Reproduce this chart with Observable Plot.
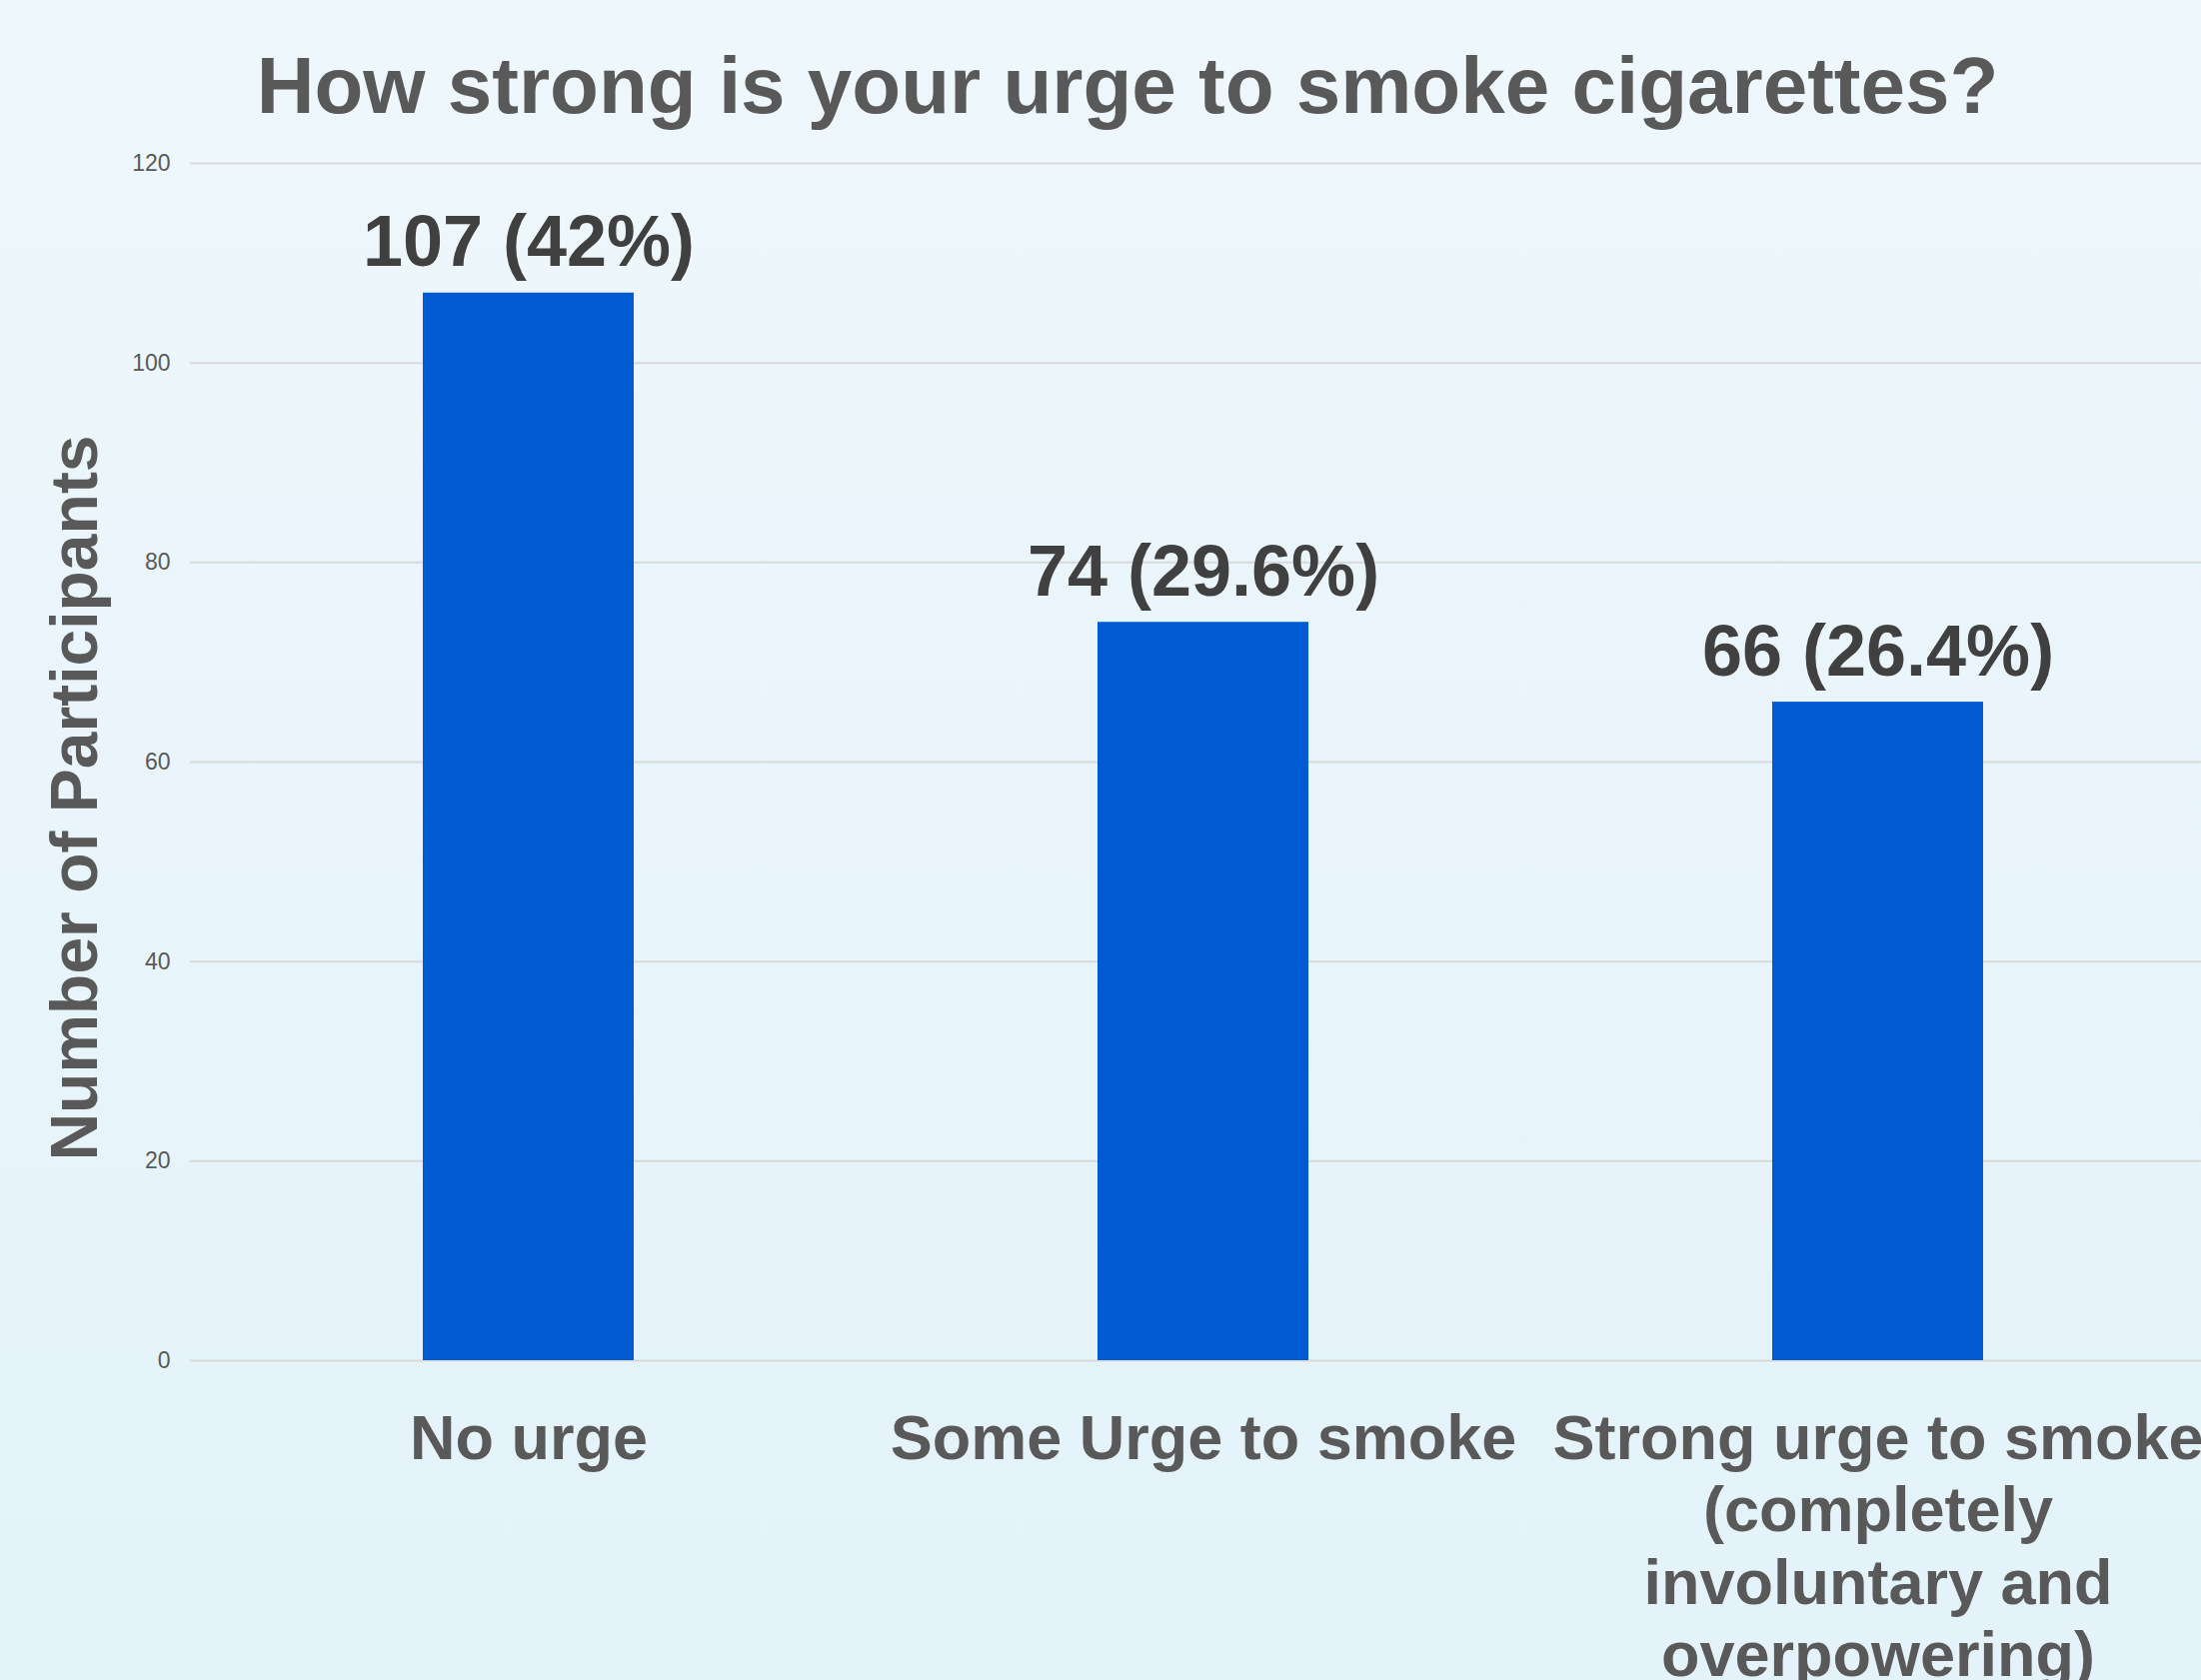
<!DOCTYPE html>
<html><head><meta charset="utf-8">
<script src="https://cdn.jsdelivr.net/npm/d3@7"></script>
<script src="https://cdn.jsdelivr.net/npm/@observablehq/plot@0.6"></script>
<style>
html,body{margin:0;padding:0;width:2202px;height:1681px;overflow:hidden;}
body{background:linear-gradient(#eef7fc,#e3f3f9);font-family:"Liberation Sans",Arial,sans-serif;}
#title{height:140px;box-sizing:border-box;padding-top:40px;padding-left:54px;line-height:92px;font-size:80px;font-weight:bold;color:#595959;text-align:center;white-space:nowrap;}
#chart svg{overflow:visible;}
</style></head><body>
<div id="title">How strong is your urge to smoke cigarettes?</div>
<div id="chart"></div>
<script>
const categories = ["No urge", "Some Urge to smoke", "Strong urge to smoke (completely involuntary and overpowering)"];
const tickLabels = ["No urge", "Some Urge to smoke", "Strong urge to smoke\n(completely\ninvoluntary and\noverpowering)"];
const counts = [107, 74, 66];
const percents = ["42%", "29.6%", "26.4%"];
const yTicks = [0, 20, 40, 60, 80, 100, 120];
const yTitle = "Number of Participants";

const data = categories.map((c, i) => ({category: c, count: counts[i], label: `${counts[i]} (${percents[i]})`}));

const chart = Plot.plot({
  width: 2202, height: 1541,
  marginTop: 23, marginBottom: 320, marginLeft: 190, marginRight: 0,
  style: {background: "transparent", fontFamily: "Liberation Sans, Arial, sans-serif", overflow: "visible"},
  x: {domain: categories, range: [190.5, 2215.5], paddingInner: 0.6875, paddingOuter: 0.34375, align: 0.5},
  y: {domain: [0, 120]},
  marks: [
    Plot.gridY(yTicks, {stroke: "#d9d9d9", strokeOpacity: 1, strokeWidth: 2}),
    Plot.barY(data, {x: "category", y: "count", fill: "#005bd3"}),
    Plot.text(data, {x: "category", y: "count", text: "label", lineAnchor: "bottom", dy: -27, fontSize: 72, fontWeight: "bold", fill: "#404040"}),
    Plot.axisY({ticks: yTicks, tickSize: 0, tickPadding: 20, fontSize: 23, fill: "#595959", label: null}),
    Plot.axisX({tickSize: 0, tickPadding: 47, fontSize: 63, fontWeight: "bold", fill: "#595959",
      tickFormat: d => tickLabels[categories.indexOf(d)], lineHeight: 1.15, label: null}),
    Plot.text([yTitle], {text: d => d, frameAnchor: "left", textAnchor: "middle", rotate: -90, dx: -115, dy: 36, fontSize: 66, fontWeight: "bold", fill: "#595959"})
  ]
});
document.getElementById("chart").appendChild(chart);
</script>
</body></html>
